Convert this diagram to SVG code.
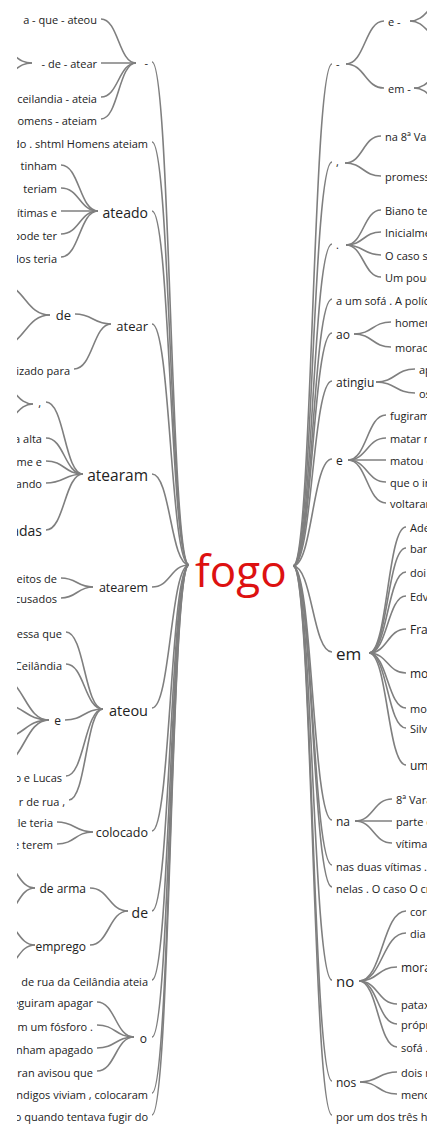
<svg xmlns="http://www.w3.org/2000/svg" width="427" height="1131" viewBox="0 0 427 1131">
<defs>
<clipPath id="clipL"><rect x="17" y="0" width="410" height="1131"/></clipPath>
<style>
text{font-family:"Segoe UI","Open Sans","Noto Sans",sans-serif;fill:#222;font-size:11px}
.e{text-anchor:end}
.m{font-size:12px}
.c path{fill:none;stroke:#7f7f7f;stroke-width:1.6}
.root{fill:#dd1111;font-size:44px}
</style>
</defs>
<rect width="427" height="1131" fill="#fff"/>
<g clip-path="url(#clipL)">
<g id="connectors" class="c">
<path d="M189 565C170.5 565 170.5 62 152 62"/>
<path d="M189 565C170.5 565 170.5 142 152 142"/>
<path d="M189 565C170.5 565 170.5 211 152 211"/>
<path d="M189 565C170.5 565 170.5 324 152 324"/>
<path d="M189 565C170.5 565 170.5 474 152 474"/>
<path d="M189 565C170.5 565 170.5 587 152 587"/>
<path d="M189 565C170.5 565 170.5 708 152 708"/>
<path d="M189 565C170.5 565 170.5 831 152 831"/>
<path d="M189 565C170.5 565 170.5 911 152 911"/>
<path d="M189 565C170.5 565 170.5 980 152 980"/>
<path d="M189 565C170.5 565 170.5 1037 152 1037"/>
<path d="M189 565C170.5 565 170.5 1093 152 1093"/>
<path d="M189 565C170.5 565 170.5 1115 152 1115"/>
<path d="M293 566C312.5 566 312.5 64 332 64"/>
<path d="M293 566C312.5 566 312.5 162 332 162"/>
<path d="M293 566C312.5 566 312.5 244 332 244"/>
<path d="M293 566C312.5 566 312.5 299 332 299"/>
<path d="M293 566C312.5 566 312.5 333 332 333"/>
<path d="M293 566C312.5 566 312.5 381 332 381"/>
<path d="M293 566C312.5 566 312.5 459 332 459"/>
<path d="M293 566C312.5 566 312.5 652 332 652"/>
<path d="M293 566C312.5 566 312.5 820 332 820"/>
<path d="M293 566C312.5 566 312.5 865 332 865"/>
<path d="M293 566C312.5 566 312.5 887 332 887"/>
<path d="M293 566C312.5 566 312.5 980 332 980"/>
<path d="M293 566C312.5 566 312.5 1081 332 1081"/>
<path d="M293 566C312.5 566 312.5 1115 332 1115"/>
<path d="M136 63C118.5 63 118.5 19 101 19"/>
<path d="M136 63C118.5 63 118.5 63 101 63"/>
<path d="M136 63C118.5 63 118.5 97 101 97"/>
<path d="M136 63C118.5 63 118.5 119 101 119"/>
<path d="M32 63C16 63 16 51 0 51"/>
<path d="M32 63C16 63 16 75 0 75"/>
<path d="M98 211C79.5 211 79.5 165 61 165"/>
<path d="M98 211C79.5 211 79.5 188 61 188"/>
<path d="M98 211C79.5 211 79.5 211 61 211"/>
<path d="M98 211C79.5 211 79.5 234 61 234"/>
<path d="M98 211C79.5 211 79.5 257 61 257"/>
<path d="M111 324C93 324 93 314 75 314"/>
<path d="M111 324C93 324 93 369 74 369"/>
<path d="M50 315C25 315 25 284 0 284"/>
<path d="M50 315C25 315 25 346 0 346"/>
<path d="M83 474C64.5 474 64.5 402 46 402"/>
<path d="M83 474C64.5 474 64.5 438 46 438"/>
<path d="M83 474C64.5 474 64.5 461 46 461"/>
<path d="M83 474C64.5 474 64.5 483 46 483"/>
<path d="M83 474C64.5 474 64.5 530 46 530"/>
<path d="M33 404C16.5 404 16.5 386 0 386"/>
<path d="M33 404C16.5 404 16.5 422 0 422"/>
<path d="M93 587C77 587 77 578 61 578"/>
<path d="M93 587C77 587 77 598 61 598"/>
<path d="M103 709C84.5 709 84.5 632 66 632"/>
<path d="M103 709C84.5 709 84.5 664 66 664"/>
<path d="M103 709C84 709 84 720 65 720"/>
<path d="M103 709C84.5 709 84.5 776 66 776"/>
<path d="M103 709C86 709 86 800 69 800"/>
<path d="M49 720C24.5 720 24.5 678 0 678"/>
<path d="M49 720C24.5 720 24.5 704 0 704"/>
<path d="M49 720C24.5 720 24.5 738 0 738"/>
<path d="M49 720C24.5 720 24.5 764 0 764"/>
<path d="M93 832C75 832 75 822 57 822"/>
<path d="M93 832C75 832 75 844 57 844"/>
<path d="M128 911C109 911 109 888 90 888"/>
<path d="M128 911C109 911 109 945 90 945"/>
<path d="M35 888C17.5 888 17.5 862 0 862"/>
<path d="M35 888C17.5 888 17.5 916 0 916"/>
<path d="M35 945C17.5 945 17.5 921 0 921"/>
<path d="M35 945C17.5 945 17.5 969 0 969"/>
<path d="M134 1037C115.5 1037 115.5 1002 97 1002"/>
<path d="M134 1037C115.5 1037 115.5 1025 97 1025"/>
<path d="M134 1037C115.5 1037 115.5 1048 97 1048"/>
<path d="M134 1037C115.5 1037 115.5 1071 97 1071"/>
<path d="M346 64C365 64 365 21 384 21"/>
<path d="M346 64C365 64 365 88 384 88"/>
<path d="M410 21C427 21 427 3 444 3"/>
<path d="M410 21C427 21 427 39 444 39"/>
<path d="M414 88C431 88 431 70 448 70"/>
<path d="M414 88C431 88 431 106 448 106"/>
<path d="M345 163C363 163 363 136 381 136"/>
<path d="M345 163C363 163 363 176 381 176"/>
<path d="M346 245C363.5 245 363.5 210 381 210"/>
<path d="M346 245C363.5 245 363.5 232 381 232"/>
<path d="M346 245C363.5 245 363.5 255 381 255"/>
<path d="M346 245C363.5 245 363.5 277 381 277"/>
<path d="M354 334C372.5 334 372.5 322 391 322"/>
<path d="M354 334C372.5 334 372.5 347 391 347"/>
<path d="M376 382C395.5 382 395.5 369 415 369"/>
<path d="M376 382C395.5 382 395.5 393 415 393"/>
<path d="M348 460C367 460 367 415 386 415"/>
<path d="M348 460C367 460 367 438 386 438"/>
<path d="M348 460C367 460 367 460 386 460"/>
<path d="M348 460C367 460 367 482 386 482"/>
<path d="M348 460C367 460 367 503 386 503"/>
<path d="M369 653C387.5 653 387.5 527 406 527"/>
<path d="M369 653C387.5 653 387.5 548 406 548"/>
<path d="M369 653C387.5 653 387.5 572 406 572"/>
<path d="M369 653C387.5 653 387.5 596 406 596"/>
<path d="M369 653C387.5 653 387.5 629 406 629"/>
<path d="M369 653C387.5 653 387.5 673 406 673"/>
<path d="M369 653C387.5 653 387.5 708 406 708"/>
<path d="M369 653C387.5 653 387.5 728 406 728"/>
<path d="M369 653C387.5 653 387.5 765 406 765"/>
<path d="M355 821C373.5 821 373.5 799 392 799"/>
<path d="M355 821C373.5 821 373.5 821 392 821"/>
<path d="M355 821C373.5 821 373.5 843 392 843"/>
<path d="M359 981C382.5 981 382.5 911 406 911"/>
<path d="M359 981C382.5 981 382.5 933 406 933"/>
<path d="M359 981C378 981 378 967 397 967"/>
<path d="M359 981C378 981 378 1004 397 1004"/>
<path d="M359 981C378 981 378 1024 397 1024"/>
<path d="M359 981C378 981 378 1047 397 1047"/>
<path d="M360 1082C378.5 1082 378.5 1072 397 1072"/>
<path d="M360 1082C378.5 1082 378.5 1094 397 1094"/>
</g>

<g id="n-fogo"><text class="root" x="195" y="587">fogo</text></g>

<g id="n-l-dash"><text class="e" x="148" y="67">-</text></g>
<g id="n-l-dash-kids">
<text class="e" x="97" y="24">a - que - ateou</text>
<text class="e" x="97" y="68">- de - atear</text>
<text class="e" x="97" y="103">ceilandia - ateia</text>
<text class="e" x="97" y="125">homens - ateiam</text>
</g>
<g id="n-l-shtml"><text class="e" x="148" y="148">ado . shtml Homens ateiam</text></g>
<g id="n-ateado">
<text class="e" x="148" y="217.5" style="font-size:14px">ateado</text>
<text class="e" x="57" y="170">tinham</text>
<text class="e" x="57" y="193">teriam</text>
<text class="e" x="57" y="217">vítimas e</text>
<text class="e" x="57" y="240">pode ter</text>
<text class="e" x="57" y="263">dos teria</text>
</g>
<g id="n-atear">
<text class="e" x="148" y="330.5" style="font-size:13px">atear</text>
<text class="e" x="71" y="320" style="font-size:13px">de</text>
<text class="e" x="70" y="375">lizado para</text>
</g>
<g id="n-atearam">
<text class="e" x="148" y="481" style="font-size:15.5px">atearam</text>
<text class="e" x="41" y="407">,</text>
<text class="e" x="42" y="443">a alta</text>
<text class="e" x="42" y="466">me e</text>
<text class="e" x="42" y="488">ando</text>
<text class="e" x="42" y="536" style="font-size:14px">adas</text>
</g>
<g id="n-atearem">
<text class="e" x="148" y="592" style="font-size:12.5px">atearem</text>
<text class="e" x="57" y="583">eitos de</text>
<text class="e" x="57" y="603">cusados</text>
</g>
<g id="n-ateou">
<text class="e" x="148" y="716" style="font-size:14.5px">ateou</text>
<text class="e" x="62" y="638">essa que</text>
<text class="e" x="62" y="670">Ceilândia</text>
<text class="e m" x="61" y="725">e</text>
<text class="e" x="62" y="782">o e Lucas</text>
<text class="e" x="65" y="806">r de rua ,</text>
</g>
<g id="n-colocado">
<text class="e" x="148" y="837" style="font-size:12.5px">colocado</text>
<text class="e" x="53" y="827">Ele teria</text>
<text class="e" x="53" y="849">e terem</text>
</g>
<g id="n-de">
<text class="e" x="148" y="918" style="font-size:14px">de</text>
<text class="e m" x="86" y="893">de arma</text>
<text class="e m" x="86" y="951">emprego</text>
</g>
<g id="n-l-derua"><text class="e" x="148" y="986">de rua da Ceilândia ateia</text></g>
<g id="n-o">
<text class="e m" x="147" y="1043">o</text>
<text class="e" x="93" y="1007">eguiram apagar</text>
<text class="e" x="93" y="1031">m um fósforo .</text>
<text class="e" x="93" y="1054">inham apagado</text>
<text class="e" x="93" y="1077">Hran avisou que</text>
</g>
<g id="n-l-mendigos"><text class="e" x="148" y="1099">endigos viviam , colocaram</text></g>
<g id="n-l-fugir"><text class="e" x="148" y="1121">lo quando tentava fugir do</text></g>

<g id="n-r-dash">
<text x="336" y="68">-</text>
<text x="388" y="26">e -</text>
<text x="388" y="93">em -</text>
</g>
<g id="n-r-comma">
<text x="336" y="166">,</text>
<text x="385" y="141">na 8ª Vara</text>
<text x="385" y="181">promessa</text>
</g>
<g id="n-r-dot">
<text x="336" y="249">.</text>
<text x="385" y="215">Biano teve</text>
<text x="385" y="237">Inicialmente</text>
<text x="385" y="260">O caso s</text>
<text x="385" y="282">Um pouco</text>
</g>
<g id="n-r-sofa"><text x="336" y="305">a um sofá . A polícia</text></g>
<g id="n-ao">
<text class="m" x="336" y="339">ao</text>
<text x="395" y="327">homem</text>
<text x="395" y="352">morad</text>
</g>
<g id="n-atingiu">
<text class="m" x="336" y="387">atingiu</text>
<text x="419" y="374">ap</text>
<text x="419" y="398">os</text>
</g>
<g id="n-e">
<text class="m" x="336" y="465">e</text>
<text x="390" y="420">fugiram</text>
<text x="390" y="443">matar m</text>
<text x="390" y="465">matou c</text>
<text x="390" y="487">que o ir</text>
<text x="390" y="508">voltaram</text>
</g>
<g id="n-em">
<text x="336" y="660" style="font-size:17px">em</text>
<text x="410" y="532">Ade</text>
<text x="410" y="553">bar</text>
<text x="410" y="577">doi</text>
<text x="410" y="601">Edv</text>
<text class="m" x="410" y="634">Fra</text>
<text class="m" x="410" y="678">mo</text>
<text x="410" y="713">mor</text>
<text x="410" y="733">Silv</text>
<text class="m" x="410" y="770">um</text>
</g>
<g id="n-na">
<text class="m" x="336" y="826">na</text>
<text x="396" y="804">8ª Vara</text>
<text x="396" y="826">parte c</text>
<text x="396" y="848">vítima</text>
</g>
<g id="n-r-nas"><text x="336" y="871">nas duas vítimas . J</text></g>
<g id="n-r-nelas"><text x="336" y="893">nelas . O caso O cr</text></g>
<g id="n-no">
<text x="336" y="987" style="font-size:15px">no</text>
<text x="410" y="916">corpo</text>
<text x="410" y="938">dia 12</text>
<text class="m" x="401" y="972">mora</text>
<text x="401" y="1009">patax</text>
<text x="401" y="1029">própr</text>
<text x="401" y="1052">sofá .</text>
</g>
<g id="n-nos">
<text class="m" x="336" y="1087">nos</text>
<text x="401" y="1077">dois r</text>
<text x="401" y="1099">menc</text>
</g>
<g id="n-r-por"><text x="336" y="1121">por um dos três ho</text></g>
</g>
</svg>
